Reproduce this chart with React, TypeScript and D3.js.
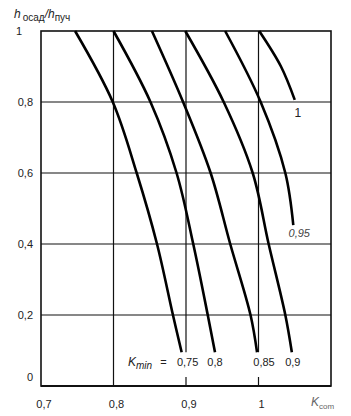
import * as d3 from "d3";

// relative heave ratio h_осад/h_пуч (y) vs compaction coefficient (x), one curve per K_min
const ratioFull = [1, 0.8, 0.6, 0.4, 0.2, 0.095];
const k075 = [0.747, 0.799, 0.832, 0.86, 0.882, 0.894];
const k080 = [0.8, 0.851, 0.887, 0.91, 0.93, 0.94];
const k085 = [0.853, 0.896, 0.934, 0.961, 0.989, 0.998];
const k090 = [0.899, 0.952, 0.992, 1.014, 1.037, 1.046];
const ratio095 = [1, 0.8, 0.6, 0.453];
const k095 = [0.954, 1.003, 1.037, 1.048];
const ratio100 = [1, 0.9, 0.806];
const k100 = [1.001, 1.031, 1.05];

const xTicks = [0.7, 0.8, 0.9, 1];
const xTickLabels = ["0,7", "0,8", "0,9", "1"];
const yTicks = [0, 0.2, 0.4, 0.6, 0.8, 1];
const yTickLabels = ["0", "0,2", "0,4", "0,6", "0,8", "1"];
const bottomLabels = ["0,75", "0,8", "0,85", "0,9"];

const W = 351;
const H = 416;
const FONT = "'Liberation Sans', Arial, sans-serif";

export default function App() {
  const x = d3.scaleLinear().domain([0.7, 1.1]).range([41, 331]);
  const y = d3.scaleLinear().domain([0, 1]).range([386, 31]);

  const line = d3
    .line<[number, number]>()
    .x((d) => x(d[0]))
    .y((d) => y(d[1]))
    .curve(d3.curveCatmullRom.alpha(0.5));

  const curves: [number, number][][] = [
    k075.map((v, i) => [v, ratioFull[i]]),
    k080.map((v, i) => [v, ratioFull[i]]),
    k085.map((v, i) => [v, ratioFull[i]]),
    k090.map((v, i) => [v, ratioFull[i]]),
    k095.map((v, i) => [v, ratio095[i]]),
    k100.map((v, i) => [v, ratio100[i]]),
  ];

  // ends of the four lower curves, used to place the K_min labels
  const lowEnds = [k075, k080, k085, k090].map((k) => k[k.length - 1]);

  return (
    <svg
      width={W}
      height={H}
      style={{ position: "absolute", left: 0, top: 0, background: "#fff" }}
      fontFamily={FONT}
    >
      <rect width={W} height={H} fill="#fff" />

      {/* horizontal grid */}
      {yTicks.filter((t) => t > 0 && t < 1).map((t) => (
        <line key={"h" + t} x1={x(0.7)} x2={x(1.1)} y1={y(t)} y2={y(t)} stroke="#111" strokeWidth={1.2} />
      ))}

      {/* vertical grid: 0,8 runs full height, 0,9 and 1 stop above the K_min labels */}
      {xTicks.filter((t) => t > 0.7).map((t) => (
        <g key={"v" + t}>
          <line
            x1={x(t)}
            x2={x(t)}
            y1={y(1)}
            y2={t === 0.8 ? y(0) : y(0.095)}
            stroke="#111"
            strokeWidth={1.2}
          />
          {t !== 0.8 && (
            <line x1={x(t)} x2={x(t)} y1={y(0) - 9} y2={y(0)} stroke="#111" strokeWidth={1.2} />
          )}
        </g>
      ))}

      {/* frame */}
      <rect
        x={x(0.7)}
        y={y(1)}
        width={x(1.1) - x(0.7)}
        height={y(0) - y(1)}
        fill="none"
        stroke="#111"
        strokeWidth={1.6}
      />
      <line x1={x(0.7)} x2={x(1.1)} y1={y(0)} y2={y(0)} stroke="#111" strokeWidth={2} />

      {/* curves */}
      {curves.map((c, i) => (
        <path key={"c" + i} d={line(c) || ""} fill="none" stroke="#000" strokeWidth={2.6} />
      ))}

      {/* y tick labels */}
      {yTicks.map((t, i) => (
        <text
          key={"yl" + t}
          x={t === 1 ? 19 : 33}
          y={t === 0 ? y(t) - 5 : y(t) + 4}
          textAnchor={t === 1 ? "middle" : "end"}
          fontSize={11}
          fill="#222"
        >
          {yTickLabels[i]}
        </text>
      ))}

      {/* x tick labels */}
      {xTicks.map((t, i) => (
        <text key={"xl" + t} x={x(t) + 3} y={408} textAnchor="middle" fontSize={11} fill="#222">
          {xTickLabels[i]}
        </text>
      ))}

      {/* axis titles */}
      <text x={14} y={18} fontSize={12} fontStyle="italic" fill="#222">
        h
        <tspan fontSize={10} fontStyle="normal" dy={3} dx={2}>осад</tspan>
        <tspan fontSize={12} dy={-3}>/h</tspan>
        <tspan fontSize={10} fontStyle="normal" dy={3}>пуч</tspan>
      </text>
      <text x={311} y={406} fontSize={12} fontStyle="italic" fill="#666">
        K
        <tspan fontSize={8} dy={3} fontStyle="normal">com</tspan>
      </text>

      {/* curve labels */}
      <text x={128} y={366} fontSize={12} fontStyle="italic" fill="#222">
        K
        <tspan fontSize={10} dy={3}>min</tspan>
        <tspan fontSize={11} dy={-3} dx={8} fontStyle="normal">=</tspan>
      </text>
      {bottomLabels.map((l, i) => (
        <text
          key={"bl" + l}
          x={x(lowEnds[i]) + [6, 0, 7, 1][i]}
          y={366}
          textAnchor="middle"
          fontSize={11}
          fill="#222"
        >
          {l}
        </text>
      ))}
      <text x={x(k095[k095.length - 1]) + 6} y={237} textAnchor="middle" fontSize={11} fontStyle="italic" fill="#444">
        0,95
      </text>
      <text x={x(k100[k100.length - 1]) + 3} y={117} textAnchor="middle" fontSize={12} fill="#222">
        1
      </text>
    </svg>
  );
}
